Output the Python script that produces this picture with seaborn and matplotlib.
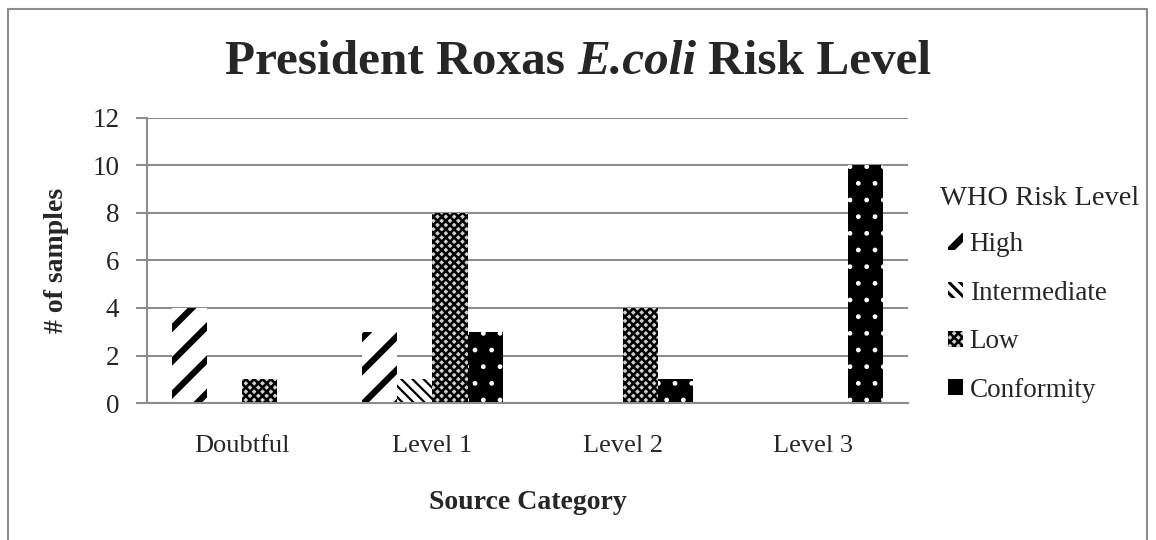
import matplotlib
matplotlib.use("Agg")
import matplotlib.pyplot as plt
from matplotlib.patches import Patch, Rectangle
import seaborn as sns
import pandas as pd

categories = ["Doubtful", "Level 1", "Level 2", "Level 3"]
risk_levels = ["High", "Intermediate", "Low", "Conformity"]
high = [4, 3, 0, 0]
intermediate = [0, 1, 0, 0]
low = [1, 8, 4, 0]
conformity = [0, 3, 1, 10]
y_ticks = [0, 2, 4, 6, 8, 10, 12]

series = {"High": high, "Intermediate": intermediate, "Low": low, "Conformity": conformity}
rows = []
for level in risk_levels:
    for cat, v in zip(categories, series[level]):
        rows.append({"Source Category": cat, "Risk": level, "Count": v})
df = pd.DataFrame(rows)

sns.set_theme(style="white")
plt.rcParams["font.family"] = ["Liberation Serif", "DejaVu Serif"]

# fill, hatch colour, hatch pattern, hatch line width for each risk level
styles = {
    "High": ("white", "black", "/", 4.5),
    "Intermediate": ("white", "black", "\\\\\\", 1.6),
    "Low": ("#d0d0d0", "black", "xxxx", 1.8),
    "Conformity": ("black", "white", ".", 1.0),
}
# small legend swatches use coarser versions of the same fills
legend_styles = {
    "High": ("white", "black", "/", 5.0),
    "Intermediate": ("white", "black", "\\\\\\", 2.2),
    "Low": ("#d0d0d0", "black", "xxxx", 1.8),
    "Conformity": ("black", "black", None, 1.0),
}
GRAY = "#8c8c8c"

fig = plt.figure(figsize=(11.56, 5.4), dpi=100)
ax = fig.add_axes([0.1272, 0.2537, 0.6583, 0.5278])

sns.barplot(data=df, x="Source Category", y="Count", hue="Risk",
            hue_order=risk_levels, order=categories, width=0.74, gap=0,
            dodge=True, legend=False, ax=ax, saturation=1)

for level, cont in zip(risk_levels, ax.containers):
    face, hcol, hatch, hlw = styles[level]
    for bar in cont:
        bar.set_facecolor(face)
        bar.set_edgecolor(hcol)
        bar.set_linewidth(0)
        bar.set_hatch(hatch)
        if hasattr(bar, "set_hatch_linewidth"):
            bar.set_hatch_linewidth(hlw)

ax.set_ylim(0, 12)
ax.set_yticks(y_ticks)
ax.set_yticklabels([str(t) for t in y_ticks], fontsize=19.5)
ax.tick_params(axis="y", length=8, width=1.5, color=GRAY, pad=12, direction="out", left=True)
ax.tick_params(axis="x", length=0, pad=23, labelsize=19)
ax.yaxis.grid(True, color=GRAY, linewidth=1.5)
ax.set_axisbelow(True)
for side in ["top", "right"]:
    ax.spines[side].set_visible(False)
for side in ["left", "bottom"]:
    ax.spines[side].set_color(GRAY)
    ax.spines[side].set_linewidth(1.5)

ax.set_ylabel("# of samples", fontsize=20, fontweight="bold", labelpad=17)
ax.set_xlabel("Source Category", fontsize=20, fontweight="bold", labelpad=24)

# title: upright / italic / upright pieces laid out side by side
renderer = fig.canvas.get_renderer()
title_parts = [("President Roxas", "normal"), ("E.coli", "italic"), ("Risk Level", "normal")]
title_size = 35.5
title_y = 0.886
texts = [fig.text(0, title_y, s, fontsize=title_size, fontweight="bold", style=st,
                  va="center", ha="left") for s, st in title_parts]
probe_a = fig.text(0, 0, "aa", fontsize=title_size, fontweight="bold")
probe_b = fig.text(0, 0, "a a", fontsize=title_size, fontweight="bold")
space_w = probe_b.get_window_extent(renderer).width - probe_a.get_window_extent(renderer).width
probe_a.remove()
probe_b.remove()
widths = [t.get_window_extent(renderer).width for t in texts]
fig_w = fig.get_figwidth() * fig.dpi
total = sum(widths) + space_w * (len(widths) - 1)
x = (fig_w - total) / 2
for t, w in zip(texts, widths):
    t.set_x(x / fig_w)
    x += w + space_w

handles = []
for level in risk_levels:
    face, hcol, hatch, hlw = legend_styles[level]
    handles.append(Patch(facecolor=face, edgecolor=hcol, hatch=hatch, linewidth=0))
fig.text(0.813, 0.632, "WHO Risk Level", fontsize=20.5, va="center", ha="left")
leg = fig.legend(handles, risk_levels, loc="upper left",
                 bbox_to_anchor=(0.820, 0.570), frameon=False, fontsize=19.5,
                 handlelength=0.55, handleheight=0.55, borderaxespad=0, borderpad=0,
                 handletextpad=0.25, labelspacing=0.87)
for p, level in zip(leg.get_patches(), risk_levels):
    if hasattr(p, "set_hatch_linewidth"):
        p.set_hatch_linewidth(legend_styles[level][3])

# outer chart frame
fig.patches.append(Rectangle((8 / 1156, -0.05), (1147 - 8) / 1156, 1.05 - 9 / 540,
                             transform=fig.transFigure, fill=False,
                             edgecolor=GRAY, linewidth=1.5))

fig.savefig("out.png", dpi=100)
